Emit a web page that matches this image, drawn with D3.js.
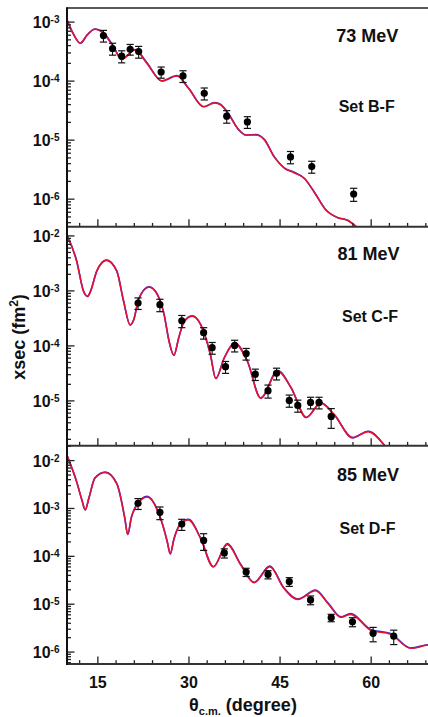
<!DOCTYPE html>
<html><head><meta charset="utf-8">
<script src="https://cdn.jsdelivr.net/npm/d3@7"></script>
<style>
body{margin:0;background:#fff}
svg{display:block}
text{font-family:"Liberation Sans",Arial,Helvetica,sans-serif;font-weight:bold;fill:#111}
</style>
</head><body>
<svg id="chart" width="428" height="717"></svg>
<script>
// ---------------- data ----------------
const energyLabels = ["73 MeV", "81 MeV", "85 MeV"];
const setLabels = ["Set B-F", "Set C-F", "Set D-F"];
const yDomains = [[3.35e-7, 1.7e-3], [1.5e-6, 1.44e-2], [5.5e-7, 2.0e-2]];
const yTickExps = [[-3, -4, -5, -6], [-2, -3, -4, -5], [-2, -3, -4, -5, -6]];
const xDomain = [10, 70];
const xMajorTicks = [15, 30, 45, 60];
const xMinorTicks = [12, 18, 21, 24, 27, 33, 36, 39, 42, 48, 51, 54, 57, 63, 66, 69];

// 73 MeV
const angle73 = [16.0, 17.5, 19.0, 20.4, 21.8, 25.5, 29.1, 32.6, 36.3, 39.7, 46.8, 50.3, 57.2];
const xsec73 = [5.8e-4, 3.5e-4, 2.6e-4, 3.4e-4, 3.1e-4, 1.4e-4, 1.2e-4, 6.1e-5, 2.5e-5, 2.0e-5, 5.1e-6, 3.5e-6, 1.2e-6];
const err73 = [1.3e-4, 0.8e-4, 0.6e-4, 0.7e-4, 0.7e-4, 0.3e-4, 0.27e-4, 1.4e-5, 0.6e-5, 0.45e-5, 1.2e-6, 0.8e-6, 0.3e-6];
const curveAngle73 = [10.0, 11.0, 12.2, 13.3, 14.6, 16.0, 17.6, 19.0, 21.2, 23.1, 25.6, 28.1, 30.0, 32.5, 34.3, 35.3, 36.7, 38.1, 39.5, 41.1, 42.5, 44.1, 45.8, 47.4, 49.1, 50.7, 52.6, 54.5, 56.2, 57.6, 59.0];
const red73 = [1.07e-3, 6.3e-4, 4.3e-4, 5.9e-4, 7.4e-4, 6.3e-4, 3.8e-4, 2.3e-4, 3.3e-4, 2.0e-4, 9.9e-5, 1.2e-4, 7.4e-5, 3.6e-5, 4.2e-5, 3.9e-5, 2.6e-5, 1.55e-5, 1.2e-5, 1.2e-5, 1.0e-5, 5.1e-6, 3.3e-6, 2.75e-6, 2.2e-6, 1.3e-6, 6.5e-7, 4.8e-7, 4.3e-7, 3.35e-7, 2.4e-7];
const blue73 = [1.07e-3, 6.3e-4, 4.3e-4, 5.9e-4, 7.5e-4, 6.5e-4, 3.9e-4, 2.3e-4, 3.35e-4, 2.05e-4, 9.9e-5, 1.22e-4, 7.5e-5, 3.6e-5, 4.25e-5, 3.95e-5, 2.65e-5, 1.55e-5, 1.2e-5, 1.22e-5, 1.0e-5, 5.2e-6, 3.3e-6, 2.8e-6, 2.2e-6, 1.3e-6, 6.5e-7, 4.8e-7, 4.3e-7, 3.35e-7, 2.4e-7];

// 81 MeV
const angle81 = [21.7, 25.3, 28.9, 32.5, 33.9, 36.1, 37.6, 39.5, 41.0, 43.1, 44.5, 46.6, 48.0, 50.1, 51.5, 53.5];
const xsec81 = [5.9e-4, 5.5e-4, 2.8e-4, 1.7e-4, 9.1e-5, 4.1e-5, 1.0e-4, 7.1e-5, 3.0e-5, 1.5e-5, 3.1e-5, 1.0e-5, 8.1e-6, 9.2e-6, 9.2e-6, 5.1e-6];
const err81 = [1.4e-4, 1.4e-4, 0.7e-4, 0.4e-4, 2.2e-5, 1.0e-5, 2.4e-5, 1.7e-5, 0.7e-5, 0.4e-5, 0.75e-5, 0.25e-5, 0.2e-5, 0.22e-5, 0.22e-5, 2.0e-6];
const curveAngle81 = [10.0, 11.6, 12.7, 13.4, 13.9, 14.9, 16.5, 18.2, 19.3, 20.4, 21.0, 21.8, 23.5, 24.9, 26.0, 26.8, 27.6, 28.4, 29.2, 30.6, 32.0, 33.6, 34.5, 35.9, 37.6, 39.7, 41.9, 44.7, 46.9, 49.4, 51.8, 54.0, 57.0, 59.6, 62.3, 64.0];
const red81 = [1.0e-2, 3.4e-3, 9.8e-4, 7.8e-4, 9.8e-4, 2.24e-3, 3.55e-3, 2.24e-3, 6.5e-4, 2.35e-4, 2.95e-4, 6.9e-4, 1.15e-3, 8.3e-4, 3.6e-4, 1.2e-4, 6.6e-5, 1.38e-4, 2.57e-4, 3.4e-4, 2.4e-4, 6.9e-5, 2.5e-5, 5.9e-5, 1.1e-4, 5.1e-5, 1.1e-5, 3.4e-5, 1.7e-5, 4.9e-6, 8.9e-6, 5.5e-6, 2.1e-6, 2.7e-6, 1.5e-6, 8.0e-7];
const blue81 = [1.0e-2, 3.4e-3, 9.8e-4, 7.8e-4, 9.8e-4, 2.24e-3, 3.55e-3, 2.24e-3, 6.5e-4, 2.35e-4, 2.95e-4, 7.0e-4, 1.16e-3, 8.4e-4, 3.6e-4, 1.2e-4, 6.6e-5, 1.38e-4, 2.6e-4, 3.45e-4, 2.4e-4, 6.9e-5, 2.5e-5, 6.0e-5, 1.12e-4, 5.2e-5, 1.1e-5, 3.5e-5, 1.7e-5, 4.9e-6, 9.0e-6, 5.5e-6, 2.1e-6, 2.75e-6, 1.5e-6, 8.0e-7];

// 85 MeV
const angle85 = [21.7, 25.3, 28.9, 32.5, 35.9, 39.5, 43.1, 46.6, 50.1, 53.5, 57.0, 60.4, 63.8];
const xsec85 = [1.25e-3, 8.1e-4, 4.6e-4, 2.1e-4, 1.15e-4, 4.6e-5, 4.1e-5, 2.9e-5, 1.2e-5, 5.1e-6, 4.2e-6, 2.4e-6, 2.1e-6];
const err85 = [3.2e-4, 2.4e-4, 1.2e-4, 0.8e-4, 0.25e-4, 0.9e-5, 0.8e-5, 0.6e-5, 0.25e-5, 0.9e-6, 0.9e-6, 0.8e-6, 0.7e-6];
const curveAngle85 = [10.0, 11.6, 12.5, 13.0, 13.6, 14.6, 16.3, 18.2, 19.5, 20.0, 20.6, 21.5, 23.2, 25.4, 26.5, 27.0, 27.6, 28.6, 30.0, 32.0, 34.1, 36.4, 38.6, 40.8, 43.4, 45.7, 48.0, 50.9, 53.0, 55.1, 56.7, 60.0, 63.3, 66.6, 69.1, 70.0];
const red85 = [1.26e-2, 3.5e-3, 1.4e-3, 9.1e-4, 1.6e-3, 4.2e-3, 5.5e-3, 3.2e-3, 6.3e-4, 2.8e-4, 6.3e-4, 1.15e-3, 1.7e-3, 6.0e-4, 2.0e-4, 1.1e-4, 2.2e-4, 4.4e-4, 5.6e-4, 2.3e-4, 5.9e-5, 1.74e-4, 6.5e-5, 2.75e-5, 5.9e-5, 2.1e-5, 1.23e-5, 1.86e-5, 1.0e-5, 5.2e-6, 6.0e-6, 2.8e-6, 2.3e-6, 1.17e-6, 1.35e-6, 1.4e-6];
const blue85 = [1.26e-2, 3.5e-3, 1.4e-3, 9.1e-4, 1.6e-3, 4.25e-3, 5.6e-3, 3.25e-3, 6.3e-4, 2.8e-4, 6.4e-4, 1.18e-3, 1.75e-3, 6.15e-4, 2.0e-4, 1.1e-4, 2.25e-4, 4.5e-4, 5.8e-4, 2.35e-4, 5.9e-5, 1.8e-4, 6.65e-5, 2.8e-5, 6.1e-5, 2.15e-5, 1.25e-5, 1.93e-5, 1.03e-5, 5.3e-6, 6.2e-6, 2.9e-6, 2.38e-6, 1.19e-6, 1.37e-6, 1.42e-6];

// ---------------- drawing ----------------
const svg = d3.select("#chart");
const X0 = 67, X1 = 431.4;
const panelBounds = [[8, 226.7], [226.7, 445.7], [445.7, 664]];
const x = d3.scaleLinear().domain(xDomain).range([X0, X1]);

const panelData = [
  {angle: angle73, xsec: xsec73, err: err73, ca: curveAngle73, red: red73, blue: blue73},
  {angle: angle81, xsec: xsec81, err: err81, ca: curveAngle81, red: red81, blue: blue81},
  {angle: angle85, xsec: xsec85, err: err85, ca: curveAngle85, red: red85, blue: blue85}
];

const RED = "#e8112d", BLUE = "#1530ff";

panelData.forEach((pd, i) => {
  const [top, bot] = panelBounds[i];
  const y = d3.scaleLog().domain(yDomains[i]).range([bot, top]);
  const g = svg.append("g");

  const cid = "clip" + i;
  svg.append("clipPath").attr("id", cid).append("rect")
    .attr("x", X0).attr("y", top).attr("width", X1 - X0).attr("height", bot - top);

  const line = d3.line().x(d => x(d[0])).y(d => y(d[1])).curve(d3.curveMonotoneX);
  const cg = g.append("g").attr("clip-path", `url(#${cid})`);
  cg.append("path").datum(pd.ca.map((a, k) => [a, pd.blue[k]]))
    .attr("d", line).attr("fill", "none").attr("stroke", BLUE).attr("stroke-width", 1.6);
  cg.append("path").datum(pd.ca.map((a, k) => [a, pd.red[k]]))
    .attr("d", line).attr("fill", "none").attr("stroke", RED).attr("stroke-width", 1.6);

  const pg = g.append("g");
  pd.angle.forEach((a, k) => {
    const cx = x(a), v = pd.xsec[k], e = pd.err[k];
    const yU = y(v + e), yL = y(v - e);
    pg.append("line").attr("x1", cx).attr("x2", cx).attr("y1", yU).attr("y2", yL)
      .attr("stroke", "#111").attr("stroke-width", 1.1);
    [yU, yL].forEach(yy => pg.append("line").attr("x1", cx - 3.6).attr("x2", cx + 3.6)
      .attr("y1", yy).attr("y2", yy).attr("stroke", "#111").attr("stroke-width", 1.2));
    pg.append("circle").attr("cx", cx).attr("cy", y(v)).attr("r", 3.6).attr("fill", "#000");
  });

  const majors = yTickExps[i].map(e => Math.pow(10, e));
  const minors = [];
  const lo = Math.floor(Math.log10(yDomains[i][0])), hi = Math.ceil(Math.log10(yDomains[i][1]));
  for (let e = lo; e < hi; e++) for (let m = 2; m <= 9; m++) {
    const v = m * Math.pow(10, e);
    if (v >= yDomains[i][0] && v <= yDomains[i][1]) minors.push(v);
  }
  const ax = g.append("g").attr("transform", `translate(${X0},0)`);
  ax.call(d3.axisLeft(y).tickValues(minors).tickSize(-4).tickSizeOuter(0).tickFormat(""));
  ax.append("g").call(d3.axisLeft(y).tickValues(majors).tickSize(-7.5).tickSizeOuter(0).tickFormat(""));
  ax.selectAll("path.domain").remove();
  ax.selectAll("line").attr("stroke", "#222").attr("stroke-width", 1.3);

  majors.forEach((v, k) => {
    const t = g.append("text").attr("x", 59.5).attr("y", y(v) + 6.4)
      .attr("text-anchor", "end").attr("font-size", 16);
    t.append("tspan").text("10");
    t.append("tspan").attr("font-size", 10).attr("dy", -4.8).text(String(yTickExps[i][k]));
  });

  const xa = g.append("g").attr("transform", `translate(0,${bot})`);
  xa.call(d3.axisBottom(x).tickValues(xMinorTicks).tickSize(-3.8).tickSizeOuter(0).tickFormat(""));
  const xm = g.append("g").attr("transform", `translate(0,${bot})`);
  xm.call(d3.axisBottom(x).tickValues(xMajorTicks).tickSize(-7.5).tickSizeOuter(0).tickPadding(12.5)
    .tickFormat(i === 2 ? d3.format("d") : () => ""));
  xa.select("path.domain").remove();
  xm.select("path.domain").remove();
  xa.selectAll("line").attr("stroke", "#222").attr("stroke-width", 1.3);
  xm.selectAll("line").attr("stroke", "#222").attr("stroke-width", 1.3);
  xm.selectAll("text").attr("font-size", 16).attr("font-family", null).attr("fill", "#111");

  g.append("line").attr("x1", X0).attr("x2", X1).attr("y1", bot).attr("y2", bot)
    .attr("stroke", "#333").attr("stroke-width", 2);

  const titleY = [41.7, 260, 481][i], titleX = [367.3, 368.5, 368][i];
  const setY = [111.7, 321.7, 534][i], setX = [366.7, 370, 367.5][i];
  g.append("text").attr("x", titleX).attr("y", titleY).attr("text-anchor", "middle")
    .attr("font-size", 18).text(energyLabels[i]);
  g.append("text").attr("x", setX).attr("y", setY).attr("text-anchor", "middle")
    .attr("font-size", 16).text(setLabels[i]);
});

svg.append("line").attr("x1", X0).attr("x2", X1).attr("y1", 8).attr("y2", 8)
  .attr("stroke", "#222").attr("stroke-width", 1.5);
svg.append("line").attr("x1", X0).attr("x2", X0).attr("y1", 7.3).attr("y2", 665)
  .attr("stroke", "#111").attr("stroke-width", 2);

const yl = svg.append("text").attr("transform", "translate(25,337) rotate(-90)")
  .attr("text-anchor", "middle").attr("font-size", 18);
yl.append("tspan").text("xsec (fm");
yl.append("tspan").attr("font-size", 12).attr("dy", -7).text("2");
yl.append("tspan").attr("dy", 7).text(")");

const xl = svg.append("text").attr("x", 243).attr("y", 711).attr("text-anchor", "middle").attr("font-size", 18);
xl.append("tspan").text("θ");
xl.append("tspan").attr("font-size", 11).attr("dy", 4).text("c.m.");
xl.append("tspan").attr("dy", -4).text(" (degree)");
</script>
</body></html>
